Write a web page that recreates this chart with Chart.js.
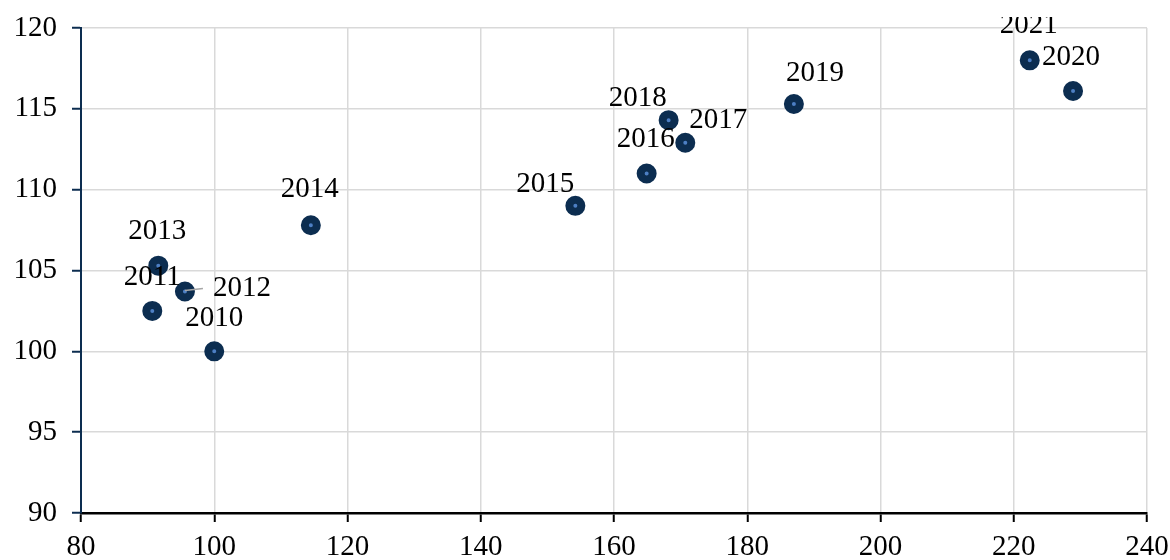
<!DOCTYPE html>
<html>
<head>
<meta charset="utf-8">
<script src="https://cdn.jsdelivr.net/npm/chart.js@4"></script>
<style>
  body { margin: 0; background: #fff; }
</style>
</head>
<body>
<canvas id="chart" width="1170" height="560"></canvas>
<script>
"use strict";

// data
const years = ["2010", "2011", "2012", "2013", "2014", "2015", "2016", "2017", "2018", "2019", "2020", "2021"];
const xValues = [100.0, 90.7, 95.6, 91.6, 114.5, 154.2, 164.9, 170.7, 168.2, 187.0, 228.9, 222.4];
const yValues = [100.0, 102.5, 103.7, 105.3, 107.8, 109.0, 111.0, 112.9, 114.3, 115.3, 116.1, 118.0];

// where each year label sits relative to its point (px)
const labelOffsets = [
  [0, -33], [0, -34], [57, -3], [-1, -34], [-1, -36], [-30, -21],
  [-1, -34], [33, -22], [-31, -22], [21, -31], [-2, -34], [-1, -35]
];
const leaderLines = ["2012"];

const FONT = "'Liberation Serif', 'Times New Roman', serif";
const NAVY = "#0c2d50";

const yearLabels = {
  id: "yearLabels",
  afterDatasetsDraw(chart) {
    const ctx = chart.ctx;
    const meta = chart.getDatasetMeta(0);
    ctx.save();
    ctx.beginPath();
    ctx.rect(0, 17, chart.width, chart.height);
    ctx.clip();
    ctx.font = "29px " + FONT;
    ctx.fillStyle = "#000";
    ctx.textAlign = "center";
    ctx.textBaseline = "middle";
    meta.data.forEach((pt, i) => {
      const lx = pt.x + labelOffsets[i][0];
      const ly = pt.y + labelOffsets[i][1];
      if (leaderLines.includes(years[i])) {
        const w = ctx.measureText(years[i]).width;
        ctx.strokeStyle = "#a6a6a6";
        ctx.lineWidth = 1.5;
        ctx.beginPath();
        ctx.moveTo(pt.x, pt.y - 1);
        ctx.lineTo(lx - w / 2 - 10, ly);
        ctx.stroke();
      }
      ctx.fillText(years[i], lx, ly);
    });
    ctx.restore();
  }
};

// let the layout padding alone decide where the plot area sits
function noOverhang(scale) {
  scale.paddingTop = 0;
  scale.paddingBottom = 0;
  scale.paddingLeft = 0;
  scale.paddingRight = 0;
}

new Chart(document.getElementById("chart"), {
  type: "scatter",
  data: {
    datasets: [{
      data: xValues.map((x, i) => ({ x: x, y: yValues[i] })),
      pointRadius: 6,
      pointHoverRadius: 6,
      pointBorderWidth: 8,
      pointBackgroundColor: "#4d7fc4",
      pointBorderColor: NAVY
    }]
  },
  options: {
    responsive: false,
    animation: false,
    devicePixelRatio: 1,
    layout: { padding: { top: 28, right: 23, left: 0, bottom: 0 } },
    plugins: {
      legend: { display: false },
      tooltip: { enabled: false }
    },
    scales: {
      x: {
        type: "linear",
        min: 80,
        max: 240,
        afterFit(scale) { scale.height = 47; noOverhang(scale); },
        ticks: {
          stepSize: 20,
          color: "#000",
          padding: 8,
          font: { family: FONT, size: 29 }
        },
        grid: {
          color: "#d9d9d9",
          lineWidth: 1.5,
          tickLength: 9,
          tickColor: "#000",
          tickWidth: 2
        },
        border: { color: "#000", width: 2.5 }
      },
      y: {
        min: 90,
        max: 120,
        afterFit(scale) { scale.width = 81; noOverhang(scale); },
        ticks: {
          stepSize: 5,
          color: "#000",
          padding: 15,
          font: { family: FONT, size: 29 }
        },
        grid: {
          color: "#d9d9d9",
          lineWidth: 1.5,
          tickLength: 9,
          tickColor: NAVY,
          tickWidth: 2
        },
        border: { color: NAVY, width: 2 }
      }
    }
  },
  plugins: [yearLabels]
});
</script>
</body>
</html>
